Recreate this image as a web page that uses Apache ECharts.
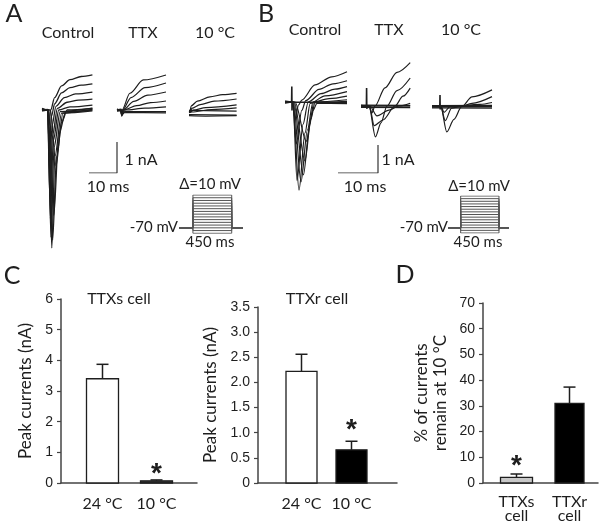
<!DOCTYPE html>
<html>
<head>
<meta charset="utf-8">
<script src="https://cdn.jsdelivr.net/npm/echarts@6/dist/echarts.min.js"></script>
<style>
  html, body { margin: 0; background: #fff; }
  #chart { width: 600px; height: 523px; }
</style>
</head>
<body>
<div id="chart"></div>
<script>
// ---- current traces, [time (ms), current (nA)] key points ----
// panel A (TTXs cell)
const aControl = [
  [[0,0],[2,0.02],[2.5,-0.5],[3.1,0],[4.5,0.4],[7,0.78],[10,0.98],[14,1.08],[18,1.13]],
  [[0,0.02],[2,0],[2.6,-1.2],[3.4,-0.2],[4.5,0.2],[7,0.55],[10,0.72],[14,0.8],[18,0.84]],
  [[0,-0.02],[2,0],[2.7,-2.0],[3.6,-0.5],[5,0.12],[8,0.4],[12,0.52],[18,0.58]],
  [[0,0],[2,0],[2.8,-2.8],[3.8,-0.8],[5.5,0.05],[9,0.25],[13,0.32],[18,0.35]],
  [[0,0.03],[2.1,0],[3,-3.5],[4,-1.0],[6,0],[10,0.1],[18,0.16]],
  [[0,0],[2.1,0],[3.2,-4.1],[4.3,-1.2],[6.5,-0.05],[18,0.06]],
  [[0,-0.03],[2.2,0],[3.5,-4.45],[4.6,-1.5],[7,-0.1],[18,0.02]],
  [[0,0.05],[2.3,0],[3.8,-4.2],[5.2,-1.5],[7.5,-0.1],[18,-0.03]],
  [[0,0],[2.5,0],[4.2,-3.4],[6,-0.8],[8.5,-0.05],[18,0]],
  [[0,0.02],[3,0],[5,-1.8],[7,-0.4],[9,0],[18,0.05]]
];
const aTTX = [
  [[0,0],[1.2,0],[1.5,-0.12],[1.8,0],[4.6,0.54],[9.4,0.97],[17.5,1.13]],
  [[0,0.02],[1.3,0],[1.6,-0.15],[2,0],[5,0.4],[10,0.72],[17.5,0.87]],
  [[0,-0.02],[1.4,0],[1.7,-0.2],[2.2,0],[6,0.28],[11,0.48],[17.5,0.58]],
  [[0,0],[1.4,0],[1.8,-0.18],[2.5,0],[7,0.14],[12,0.24],[17.5,0.29]],
  [[0,0.03],[1.5,0],[1.9,-0.15],[3,0],[10,0.06],[17.5,0.1]],
  [[0,0],[1.5,0.03],[2,-0.12],[3,-0.05],[17.5,-0.05]],
  [[0,-0.04],[1.6,-0.02],[2.1,-0.1],[3.2,-0.08],[17.5,-0.09]]
];
const aCold = [
  [[0,0],[0.3,0],[0.8,0.2],[3,0.35],[7.5,0.49],[12,0.56],[17,0.6]],
  [[0,0.02],[0.5,0],[1,0.12],[4,0.24],[9,0.35],[17,0.42]],
  [[0,0],[0.6,0],[1.5,0.06],[6,0.14],[17,0.23]],
  [[0,-0.02],[1,0],[8,0.08],[17,0.13]],
  [[0,0.05],[17,0.03]],
  [[0,-0.08],[17,-0.1]],
  [[0,-0.12],[6,-0.13],[17,-0.12]]
];
// panel B (TTXr cell)
const bControl = [
  [[0,0],[1.9,0],[2.5,-0.6],[3.4,-0.1],[4.2,0.07],[7.5,0.61],[11.7,0.9],[15.5,1.08]],
  [[0,0.02],[1.9,0],[2.8,-1.5],[4.2,-0.3],[5.2,0.05],[8.5,0.45],[12,0.65],[15.5,0.76]],
  [[0,0],[2,0],[3,-2.8],[4.5,-0.8],[5.8,0],[9,0.3],[12.5,0.46],[15.5,0.55]],
  [[0,-0.02],[2,0],[3.5,-3.15],[5,-1.1],[6.3,-0.05],[10,0.22],[15.5,0.37]],
  [[0,0],[2.1,0],[4,-2.85],[5.6,-1.0],[7,0],[11,0.12],[15.5,0.21]],
  [[0,0.03],[2.2,0],[4.6,-2.6],[6.2,-0.8],[7.2,0],[15.5,0.08]],
  [[0,0],[2.3,0],[5,-2.1],[6.5,-0.6],[7.5,-0.02],[15.5,0.02]],
  [[0,-0.04],[2.5,0],[5.3,-1.4],[7,-0.3],[8,-0.05],[15.5,-0.06]]
];
const bControlArtifact = [[0,0],[1.65,0],[1.7,0.55],[1.75,-0.3],[1.85,0],[15.5,-0.03]];
const bTTX = [
  [[0,0],[2,0],[2.7,-0.25],[3.5,0],[6,0.65],[9,1.2],[12.3,1.55]],
  [[0,0.02],[2,0],[3.6,-1.1],[5,-0.6],[6.5,0],[9,0.55],[12.3,1.0]],
  [[0,0],[2.1,0],[3.3,-0.7],[5.5,-0.5],[8.5,0],[10.5,0.35],[12.3,0.64]],
  [[0,-0.03],[2.2,0],[4,-0.35],[7,-0.15],[9.5,0],[12.3,0.1]],
  [[0,0.03],[12.3,0.02]],
  [[0,-0.05],[12.3,-0.06]]
];
const bTTXArtifact = [[0,0],[1.35,0],[1.4,0.64],[1.45,-0.1],[1.55,0],[12.3,0]];
const bCold = [
  [[0,0],[2.2,0],[3.7,-0.9],[5.5,-0.45],[7.4,0],[10,0.35],[15,0.6]],
  [[0,0.02],[2.2,0],[3.3,-0.5],[4.9,-0.05],[7,0],[10,0.12],[15,0.36]],
  [[0,0],[2.3,0],[3,-0.2],[4.5,0],[12,0.08],[15,0.15]],
  [[0,-0.04],[15,-0.05]],
  [[0,0.04],[15,0.05]]
];
const bColdArtifact = [[0,0],[1.95,0],[2,0.42],[2.05,-0.1],[2.15,0],[15,0]];

// scale bar: 10 ms, 1 nA
const scaleBar = [[0,0],[10,0],[10,1]];
// voltage protocol: 450 ms steps from -70 mV holding
const holdingMv = -70;
const stepMs = 450;
const stepLevels = [-90,-80,-70,-60,-50,-40,-30,-20,-10,0,10,20,30,40,50];

// ---- bar charts ----
const tempCats = ['24 °C', '10 °C'];
const ttxsPeak = [3.4, 0.07];
const ttxsErr = [0.47, 0.03];
const ttxsSig = [0, 1];
const ttxrPeak = [2.22, 0.66];
const ttxrErr = [0.34, 0.17];
const ttxrSig = [0, 1];
const cellCats = ['TTXs\ncell', 'TTXr\ncell'];
const remainPct = [2.2, 31];
const remainErr = [1.3, 6.3];
const remainSig = [1, 0];

const TEXT_FONT = 'Lato, "Open Sans", sans-serif';
const NUM_FONT = '"Liberation Sans", Arial, sans-serif';
const INK = '#1e1e1e';

const grids = [], xAxes = [], yAxes = [], series = [];

function addGrid(box, xr, yr) {
  const i = grids.length;
  grids.push(box);
  xAxes.push({ type: 'value', gridIndex: i, min: xr[0], max: xr[1], show: false });
  yAxes.push({ type: 'value', gridIndex: i, min: yr[0], max: yr[1], show: false });
  return i;
}
// grid laid out so that the trace scale matches the scale bar
function traceGrid(left, baseY, spanMs, sc, yMin, yMax) {
  return addGrid({ left: left, top: baseY - yMax * sc.nA, width: spanMs * sc.ms, height: (yMax - yMin) * sc.nA },
                 [0, spanMs], [yMin, yMax]);
}
function lines(traces, gi, smooth, color, width) {
  traces.forEach(tr => series.push({
    type: 'line', xAxisIndex: gi, yAxisIndex: gi, data: tr, symbol: 'none',
    smooth: smooth, smoothMonotone: 'x', silent: true, animation: false,
    lineStyle: { color: color || INK, width: width || 1.2 }
  }));
}
function protocol(gi) {
  const tr = stepLevels.map(v => [[-200, holdingMv], [0, holdingMv], [0, v], [stepMs, v], [stepMs, holdingMv], [700, holdingMv]]);
  lines(tr, gi, false, '#555', 1);
}

const sA = { ms: 2.8, nA: 31 };
const sB = { ms: 4, nA: 28 };

lines(aControl, traceGrid(42, 110, 18, sA, -5, 2), 0.3, INK, 1.3);
lines(aTTX, traceGrid(117, 110, 17.5, sA, -5, 2), 0.3);
lines(aCold, traceGrid(189, 112, 17, sA, -5, 2), 0.3);
lines([scaleBar], traceGrid(89, 173, 10, sA, 0, 1), false, '#333', 1.2);
protocol(addGrid({ left: 180, top: 195, width: 61.7, height: 38.3 }, [-150, 566], [-90, 50]));

lines(bControl, traceGrid(285, 102, 15.5, sB, -4, 2), 0.3);
lines([bControlArtifact], traceGrid(285, 102, 15.5, sB, -4, 2), false, INK, 1.6);
lines(bTTX, traceGrid(361, 106, 12.3, sB, -4, 2), 0.3);
lines([bTTXArtifact], traceGrid(361, 106, 12.3, sB, -4, 2), false, INK, 1.6);
lines(bCold, traceGrid(432, 106.7, 15, sB, -4, 2), 0.3);
lines([bColdArtifact], traceGrid(432, 106.7, 15, sB, -4, 2), false, INK, 1.6);
lines([scaleBar], traceGrid(338, 173, 10, sB, 0, 1), false, '#333', 1.2);
protocol(addGrid({ left: 449, top: 196, width: 59, height: 37 }, [-137, 556], [-90, 50]));

// bar panels: value x axis 0..10, bars placed at slot positions
function barPanel(box, yMax, yStep, name, nameGap, vals, errs, sig, cats, slots, barPx, fills, starGap, labelDy) {
  const i = grids.length;
  grids.push(box);
  xAxes.push({
    type: 'value', gridIndex: i, min: 0, max: 10,
    axisLine: { show: true, onZero: false, lineStyle: { color: '#444', width: 1.5 } },
    axisTick: { show: false }, axisLabel: { show: false }, splitLine: { show: false }
  });
  yAxes.push({
    type: 'value', gridIndex: i, min: 0, max: yMax, interval: yStep,
    name: name, nameLocation: 'middle', nameGap: nameGap, nameRotate: 90,
    nameTextStyle: { fontFamily: TEXT_FONT, fontSize: 17, color: INK, lineHeight: 19 },
    axisLine: { show: true, lineStyle: { color: '#444', width: 1.5 } },
    axisTick: { show: true, length: 4, lineStyle: { color: '#444', width: 1.2 } },
    axisLabel: { fontFamily: NUM_FONT, fontSize: 14, color: INK, margin: 8,
      formatter: v => (yStep < 1 && v !== 0) ? v.toFixed(1) : String(v) },
    splitLine: { show: false }
  });
  series.push({
    type: 'custom', xAxisIndex: i, yAxisIndex: i, silent: true, animation: false,
    encode: { x: 0, y: 1 },
    data: vals.map((v, k) => [slots[k], v, errs[k], sig[k], k]),
    renderItem: (params, api) => {
      const x = api.value(0), v = api.value(1), e = api.value(2), k = api.value(4);
      const base = api.coord([x, 0]), top = api.coord([x, v]), et = api.coord([x, v + e]);
      const cx = Math.round(base[0]) + 0.5;
      const w = barPx[k];
      const kids = [
        { type: 'line', shape: { x1: cx, y1: top[1], x2: cx, y2: et[1] }, style: { stroke: INK, lineWidth: 1.5 } },
        { type: 'line', shape: { x1: cx - 6, y1: et[1], x2: cx + 6, y2: et[1] }, style: { stroke: INK, lineWidth: 1.5 } },
        { type: 'rect', shape: { x: cx - w / 2, y: top[1], width: w, height: base[1] - top[1] },
          style: { fill: fills[k], stroke: INK, lineWidth: 1.3 } },
        { type: 'text', x: cx, y: base[1] + labelDy,
          style: { text: cats[k], fontFamily: TEXT_FONT, fontSize: 16, fill: INK, lineHeight: 14,
                   align: 'center', verticalAlign: 'middle', textAlign: 'center', textVerticalAlign: 'middle' } }
      ];
      if (api.value(3)) {
        kids.push({ type: 'text', x: cx, y: et[1] - starGap,
          style: { text: '*', fontFamily: NUM_FONT, fontSize: 28, fontWeight: 'bold', fill: INK,
                   align: 'center', verticalAlign: 'middle', textAlign: 'center', textVerticalAlign: 'middle' } });
      }
      return { type: 'group', children: kids };
    }
  });
}

barPanel({ left: 61, top: 299, width: 136, height: 184 }, 6, 1, 'Peak currents (nA)', 26,
  ttxsPeak, ttxsErr, ttxsSig, tempCats, [3, 6.95], [32, 32], ['#fff', '#333'], 6, 21);
barPanel({ left: 258, top: 307, width: 139, height: 176 }, 3.5, 0.5, 'Peak currents (nA)', 38,
  ttxrPeak, ttxrErr, ttxrSig, tempCats, [3.06, 6.69], [31, 31], ['#fff', '#000'], 11, 21);
barPanel({ left: 483, top: 303, width: 115, height: 180 }, 70, 10, '% of currents\nremain at 10 °C', 33,
  remainPct, remainErr, remainSig, cellCats, [2.87, 7.52], [32, 29], ['#c8c8c8', '#000'], 8, 26);

function txt(x, y, s, size, align) {
  return { type: 'text', x: x, y: y, silent: true,
    style: { text: s, fontFamily: TEXT_FONT, fontSize: size || 16, fill: INK,
             align: align || 'center', verticalAlign: 'middle',
             textAlign: align || 'center', textVerticalAlign: 'middle' } };
}

const graphic = [
  txt(14, 14, 'A', 25), txt(266, 14, 'B', 25), txt(12, 276, 'C', 25), txt(405, 275, 'D', 25),
  txt(68, 33, 'Control'), txt(143, 33, 'TTX'), txt(215, 33, '10 °C'),
  txt(315, 30, 'Control'), txt(389, 30, 'TTX'), txt(461, 30, '10 °C'),
  txt(141, 160, '1 nA'), txt(108, 187, '10 ms'),
  txt(398, 160, '1 nA'), txt(365, 187, '10 ms'),
  txt(210, 184, 'Δ=10 mV', 15), txt(178, 227, '-70 mV', 15, 'right'), txt(210, 242, '450 ms', 15),
  txt(479, 186, 'Δ=10 mV', 15), txt(448, 227, '-70 mV', 15, 'right'), txt(478, 242, '450 ms', 15),
  txt(119, 299, 'TTXs cell'), txt(317, 299, 'TTXr cell')
];

const chart = echarts.init(document.getElementById('chart'), null, { renderer: 'canvas' });
chart.setOption({
  backgroundColor: '#fff',
  animation: false,
  grid: grids,
  xAxis: xAxes,
  yAxis: yAxes,
  series: series,
  graphic: graphic
});
</script>
</body>
</html>
